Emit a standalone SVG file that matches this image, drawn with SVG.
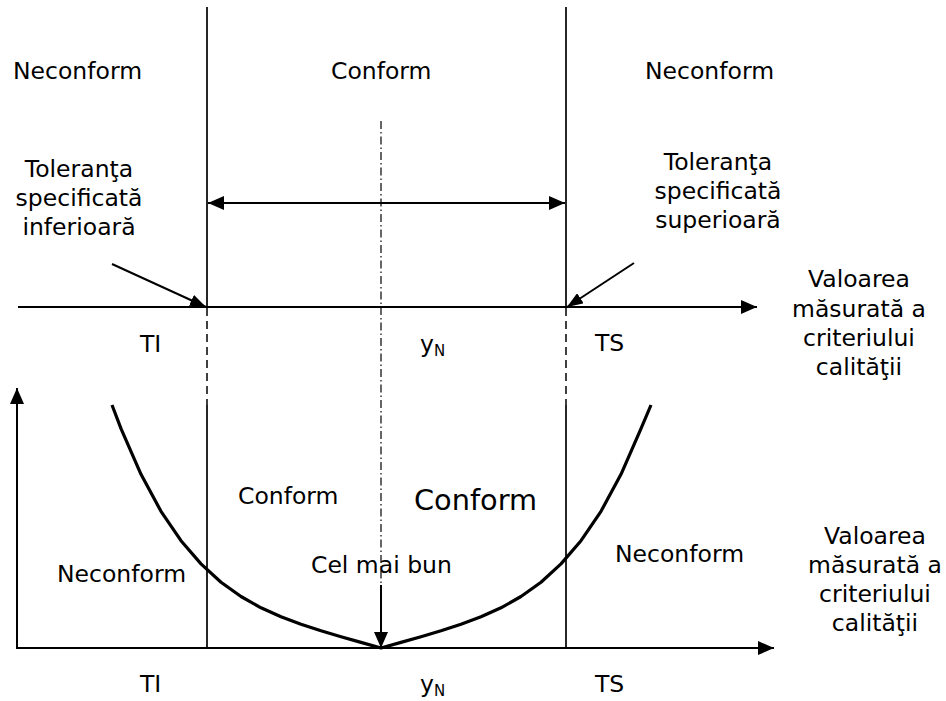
<svg xmlns="http://www.w3.org/2000/svg" width="946" height="701" viewBox="0 0 946 701">
  <style>
    text { font-family: "DejaVu Sans", Verdana, sans-serif; font-size: 23.5px; fill: #000; }
    .mid { text-anchor: middle; }
    .big { font-size: 28.8px; }
    .sub { font-size: 15px; }
    .axis { stroke: #000; stroke-width: 2; fill: none; }
    .limit { stroke: #000; stroke-width: 1.7; fill: none; }
    .dash { stroke: #000; stroke-width: 1.5; stroke-dasharray: 8 5; fill: none; }
    .center { stroke: #000; stroke-width: 1.2; stroke-dasharray: 8 3 1.5 3; fill: none; }
    .curve { stroke: #000; stroke-width: 3.2; fill: none; stroke-linejoin: round; }
  </style>
  <defs>
    <marker id="ah" viewBox="0 0 16 14" refX="16" refY="7" markerWidth="16" markerHeight="14" markerUnits="userSpaceOnUse" orient="auto-start-reverse">
      <path d="M0,0 L16,7 L0,14 z" fill="#000"/>
    </marker>
    <marker id="ahs" viewBox="0 0 16 12" refX="16" refY="6" markerWidth="16" markerHeight="12" markerUnits="userSpaceOnUse" orient="auto">
      <path d="M0,0 L16,6 L0,12 z" fill="#000"/>
    </marker>
  </defs>

  <rect width="946" height="701" fill="#fff"/>

  <!-- connectors: axes, limit lines, arrows, curve -->
  <g id="connectors">
    <!-- tolerance limits -->
    <line class="limit" x1="207" y1="7" x2="207" y2="307"/>
    <line class="limit" x1="566" y1="7" x2="566" y2="307"/>
    <line class="dash" x1="207" y1="308" x2="207" y2="405"/>
    <line class="dash" x1="566" y1="308" x2="566" y2="405"/>
    <line class="limit" x1="207" y1="405" x2="207" y2="648"/>
    <line class="limit" x1="566" y1="405" x2="566" y2="648"/>

    <!-- nominal value centre line -->
    <line class="center" x1="381" y1="121" x2="381" y2="585"/>

    <!-- tolerance span -->
    <line class="axis" x1="208" y1="203" x2="565" y2="203" marker-start="url(#ah)" marker-end="url(#ah)"/>

    <!-- upper axis -->
    <line class="axis" x1="18" y1="307" x2="757" y2="307" marker-end="url(#ah)"/>

    <!-- leaders to limits -->
    <line class="axis" x1="112" y1="264" x2="206" y2="307" marker-end="url(#ahs)"/>
    <line class="axis" x1="634" y1="263" x2="567" y2="307" marker-end="url(#ahs)"/>

    <!-- lower axes -->
    <line class="axis" x1="17" y1="649" x2="17" y2="388" marker-end="url(#ah)"/>
    <line class="axis" x1="16" y1="648" x2="774" y2="648" marker-end="url(#ah)"/>

    <!-- best value arrow -->
    <line class="axis" x1="381" y1="585" x2="381" y2="648" marker-end="url(#ah)"/>

    <!-- loss curve -->
    <polyline class="curve" points="112,405 121,428.6 141,474.3 161,511.3 181,540.7 201,563.9 221,582.2 241,596.5 261,607.8 281,616.8 301,624.3 321,630.8 341,636.7 361,642.4 381,648 401,642.4 421,636.7 441,630.8 461,624.3 481,616.8 501,607.8 521,596.5 541,582.2 561,563.9 581,540.7 601,511.3 621,474.3 641,428.6 651,405"/>
  </g>

  <!-- region labels, upper chart -->
  <g id="upper-left-region"><text x="13" y="79">Neconform</text></g>
  <g id="upper-middle-region"><text x="331" y="79">Conform</text></g>
  <g id="upper-right-region"><text x="645" y="79">Neconform</text></g>

  <g id="lower-tolerance">
    <text class="mid" x="79" y="177">Toleranţa</text>
    <text class="mid" x="79" y="206">specificată</text>
    <text class="mid" x="79" y="235">inferioară</text>
  </g>
  <g id="upper-tolerance">
    <text class="mid" x="718" y="170">Toleranţa</text>
    <text class="mid" x="718" y="199">specificată</text>
    <text class="mid" x="718" y="228">superioară</text>
  </g>

  <g id="upper-axis-title">
    <text class="mid" x="859" y="287">Valoarea</text>
    <text class="mid" x="859" y="317">măsurată a</text>
    <text class="mid" x="859" y="346">criteriului</text>
    <text class="mid" x="859" y="375">calităţii</text>
  </g>

  <g id="upper-ti"><text x="140" y="352">TI</text></g>
  <g id="upper-yn"><text x="420" y="352">y<tspan class="sub" dy="4">N</tspan></text></g>
  <g id="upper-ts"><text x="595" y="351">TS</text></g>

  <!-- region labels, lower chart -->
  <g id="lower-conform-small"><text x="238" y="504">Conform</text></g>
  <g id="lower-conform-big"><text class="big" x="414" y="510">Conform</text></g>
  <g id="lower-left-region"><text x="57" y="582">Neconform</text></g>
  <g id="best-value"><text x="311" y="573">Cel mai bun</text></g>
  <g id="lower-right-region"><text x="615" y="562">Neconform</text></g>

  <g id="lower-axis-title">
    <text class="mid" x="875" y="544">Valoarea</text>
    <text class="mid" x="875" y="573">măsurată a</text>
    <text class="mid" x="875" y="602">criteriului</text>
    <text class="mid" x="875" y="631">calităţii</text>
  </g>

  <g id="lower-ti"><text x="140" y="692">TI</text></g>
  <g id="lower-yn"><text x="420" y="692">y<tspan class="sub" dy="4">N</tspan></text></g>
  <g id="lower-ts"><text x="595" y="692">TS</text></g>
</svg>
